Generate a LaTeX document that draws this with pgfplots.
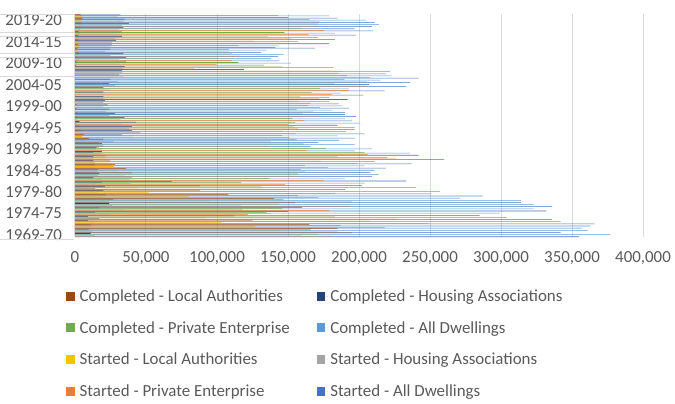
\documentclass[border=0pt]{standalone}
\usepackage{fontspec}
\setmainfont{Carlito}
\usepackage{pgfplots}
\usepackage{pgfplotstable}
\pgfplotsset{compat=1.18}

\definecolor{cSA}{HTML}{4472C4}
\definecolor{cSPE}{HTML}{ED7D31}
\definecolor{cSHA}{HTML}{A5A5A5}
\definecolor{cSLA}{HTML}{FFC000}
\definecolor{cCA}{HTML}{5B9BD5}
\definecolor{cCPE}{HTML}{70AD47}
\definecolor{cCHA}{HTML}{264478}
\definecolor{cCLA}{HTML}{9E480E}
\definecolor{txt}{HTML}{595959}
\definecolor{gridc}{HTML}{D9D9D9}

% thousands of dwellings, 1969-70 (idx 0) to 2020-21 (idx 51)
\pgfplotstableread{
idx SA SPE SHA SLA CA CPE CHA CLA
0 355 181 14 160 377 171 11 195
1 342 185 12 145 361 166 10 185
2 357 218 12 127 363 187 11 165
3 366 249 14 103 342 208 9 125
4 336 227 17 92 304 183 9 112
5 285 122 25 138 299 135 14 150
6 332 179 35 118 323 146 17 160
7 336 193 26 117 323 144 24 155
8 314 195 24 95 314 147 27 140
9 271 171 20 80 287 157 22 108
10 251 183 16 52 257 149 20 88
11 190 132 14 44 240 131 21 88
12 202 148 15 39 204 117 19 68
13 233 175 19 39 190 137 13 40
14 209 158 16 35 214 157 17 40
15 208 162 16 30 211 159 16 36
16 219 178 14 27 204 162 14 28
17 237 199 14 24 211 173 13 25
18 260 226 13 21 220 185 13 22
19 242 206 17 19 236 204 13 19
20 197 163 19 15 209 177 15 17
21 166 136 20 10 197 161 19 17
22 171 138 27 6 186 156 20 10
23 197 151 41 5 185 146 33 6
24 204 155.5 46 2.5 191 147 40 4
25 197 157 38 2 197 154 40 3
26 185 150.5 33 1.5 201 155 43 3
27 195 161.5 32 1.5 190 153 35 2
28 198 173 24 1 190 160.5 28 1.5
29 190 167.5 22 0.5 181 156 24 1
30 193 172.7 20 0.3 188 164 23 1
31 186 165.7 20 0.3 179 157.6 21 0.4
32 192 171.7 20 0.3 179 158.7 20 0.3
33 203 180.7 22 0.3 187 166.7 20 0.3
34 218 192.7 25 0.3 193 172.6 20 0.4
35 233 204.7 28 0.3 207 182.8 24 0.2
36 236 205.6 30 0.4 215 189.7 25 0.3
37 242 207.6 34 0.4 223 191.7 31 0.3
38 219 185.5 33 0.5 222 188.5 33 0.5
39 119 84.1 34 0.9 182 146.2 35 0.8
40 133 99.7 32 1.3 152 115 36 1
41 144 110.4 31 2.6 138 100.6 36 1.4
42 143 115.8 25 2.2 147 110.5 34 2.5
43 131 108.2 21 1.8 135 108.3 25 1.7
44 169 141.1 25 2.9 143 114.8 26 2.2
45 179 150.2 26 2.8 157 125.5 29 2.5
46 183 152.3 28 2.7 171 135.6 33 2.4
47 198 164.5 30 3.5 183 147.5 33 2.5
48 210 175.4 31 3.6 197 159.6 34 3.4
49 209 171.4 33 4.6 214 171.5 38 4.5
50 211 172.3 34 4.7 205 165 35 5
51 185 150 30 5 179 143 32 4
}\housing

\begin{document}
\begin{tikzpicture}
\begin{axis}[
    width=568pt, height=223pt, scale only axis,
    xbar, bar width=0.125,
    xmin=0, xmax=400, ymin=-0.5, ymax=51.5,
    xtick={0,50,...,400},
    xticklabels={0,{50,000},{100,000},{150,000},{200,000},{250,000},{300,000},{350,000},{400,000}},
    ytick={0,5,...,50},
    yticklabels={1969-70,1974-75,1979-80,1984-85,1989-90,1994-95,1999-00,2004-05,2009-10,2014-15,2019-20},
    major tick length=0pt,
    axis line style={draw=none},
    xmajorgrids,
    grid style={gridc, line width=1pt},
    ticklabel style={font=\fontsize{16.9}{20}\selectfont, text=txt},
    xticklabel style={yshift=-11pt},
    yticklabel style={xshift=-9.5pt},
    clip=false,
    legend columns=2,
    reverse legend,
    legend cell align=left,
    legend style={draw=none, fill=none, at={(-0.0158,-0.226)}, anchor=north west,
        font=\fontsize{16.9}{20}\selectfont, text=txt, inner sep=0pt, row sep=14.5pt,
        /tikz/every even column/.append style={column sep=25pt}},
    legend image code/.code={\fill[#1] (0pt,-4.5pt) rectangle (8.5pt,4.5pt);
        \path (8.5pt,0pt) -- (11.5pt,0pt);},
]
\addplot[fill=cSA, draw=none, bar shift=-0.4375] table[x=SA, y=idx] {\housing};
\addlegendentry{Started - All Dwellings}
\addplot[fill=cSPE, draw=none, bar shift=-0.3125] table[x=SPE, y=idx] {\housing};
\addlegendentry{Started - Private Enterprise}
\addplot[fill=cSHA, draw=none, bar shift=-0.1875] table[x=SHA, y=idx] {\housing};
\addlegendentry{Started - Housing Associations}
\addplot[fill=cSLA, draw=none, bar shift=-0.0625] table[x=SLA, y=idx] {\housing};
\addlegendentry{Started - Local Authorities}
\addplot[fill=cCA, draw=none, bar shift=0.0625] table[x=CA, y=idx] {\housing};
\addlegendentry{Completed - All Dwellings}
\addplot[fill=cCPE, draw=none, bar shift=0.1875] table[x=CPE, y=idx] {\housing};
\addlegendentry{Completed - Private Enterprise}
\addplot[fill=cCHA, draw=none, bar shift=0.3125] table[x=CHA, y=idx] {\housing};
\addlegendentry{Completed - Housing Associations}
\addplot[fill=cCLA, draw=none, bar shift=0.4375] table[x=CLA, y=idx] {\housing};
\addlegendentry{Completed - Local Authorities}
% left axis line and the label box edges
\draw[gridc, line width=1pt] (rel axis cs:0,0) -- (rel axis cs:0,1);
\draw[gridc, line width=0.8pt] (rel axis cs:-0.132,1.0) -- (rel axis cs:-0.002,1.0);
\draw[gridc, line width=0.8pt] (rel axis cs:-0.132,0.919) -- (rel axis cs:-0.002,0.919);
\draw[gridc, line width=0.8pt] (rel axis cs:-0.132,0.901) -- (rel axis cs:-0.002,0.901);
\draw[gridc, line width=0.8pt] (rel axis cs:-0.132,0.825) -- (rel axis cs:-0.002,0.825);
\draw[gridc, line width=0.8pt] (rel axis cs:-0.132,0.805) -- (rel axis cs:-0.002,0.805);
\draw[gridc, line width=0.8pt] (rel axis cs:-0.132,0.722) -- (rel axis cs:-0.002,0.722);
\draw[gridc, line width=0.8pt] (rel axis cs:-0.132,-0.009) -- (rel axis cs:-0.002,-0.009);
\coordinate (bl) at (rel axis cs:0,0);
\end{axis}
\pgfresetboundingbox
\path ([shift={(-75pt,-167pt)}]bl) rectangle ([shift={(600pt,237pt)}]bl);
\end{tikzpicture}
\end{document}
